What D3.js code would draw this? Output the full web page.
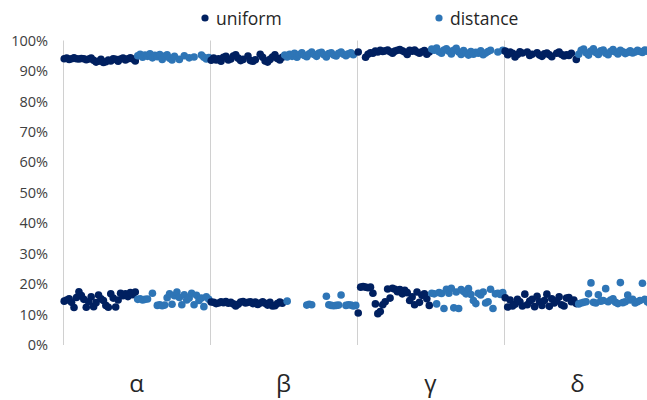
<!DOCTYPE html>
<html>
<head>
<meta charset="utf-8">
<script src="https://cdn.jsdelivr.net/npm/d3@7"></script>
<style>
  html, body { margin: 0; padding: 0; background: #fff; }
  svg { display: block; font-family: "Open Sans", "Liberation Sans", sans-serif; }
</style>
</head>
<body>
<svg id="chart" width="647" height="400"></svg>
<script>
const categories = ["α", "β", "γ", "δ"];
const seriesNames = ["uniform", "distance"];
const seriesColors = ["#002060", "#2E75B6"];
const yTicks = [0, 10, 20, 30, 40, 50, 60, 70, 80, 90, 100];

const uniformHigh = [
  [94,94.2,93.8,94,94.3,94,93.9,94.1,94,93.7,93.9,94.2,93.5,92.9,93.2,93.8,92.8,93,93.6,93.3,94,93.8,93.2,93.9,94.2,93.6,94,94.3,93.9,93.3],
  [93.5,94.2,93.6,94,93.2,94.5,94.8,93.6,93.9,94.9,95.3,94.2,93.4,93.8,null,94.9,93.4,93.2,93.7,null,95.5,94.5,93.3,92.9,93.8,94.6,95.3,94.1,93.6,94.5],
  [96.2,null,null,94.5,95.5,96,95.8,96.5,96.2,96.8,96.4,96.6,96.9,96.3,95.8,96.5,96.8,97,96.6,96.2,95.4,96.8,96.5,96.9,96.2,95.8,96.3,96.7,95.5,96.2],
  [96.5,95.3,96.2,95.8,94.6,95.4,96.3,95.9,null,96.2,95.1,95.5,null,96,95.2,94.8,95.6,95.9,95.3,94.7,null,95.8,96.2,95.4,94.9,95.3,95.1,95.8,null,93.8]
];
const distanceHigh = [
  [95,95.5,94.5,95.2,94.8,95.6,94.3,95.1,94.7,95.4,93.8,94.9,95.3,94.2,93.6,94.8,null,93.8,null,95,null,94.3,null,94.6,null,null,95.2,94.5,93.9,94.4],
  [95.2,94.6,95.5,94.8,95.8,94.5,95.4,96,95.1,94.7,95.6,96.2,95.4,94.8,95.9,96.1,95.3,94.6,95.7,96,95.2,94.9,95.8,96.2,95.5,95,95.6,96,95.3,null],
  [97.2,96.8,97.5,96.3,95.8,96.9,97.3,96.5,95.6,96.8,97.4,96.2,95.4,96.7,95.9,95.2,96.4,95.5,96.1,95.8,96.6,95.3,95.9,96.4,96.8,null,null,96.2,null,96.8],
  [95.5,96.8,97.2,96,95.2,96.5,97.3,96.1,95.4,96.6,96.9,95.8,95.3,96.4,97,96.2,95.6,96.8,96.3,95.7,96.1,96.6,95.9,96.2,96.8,96.4,96.1,96.9,96.5,97]
];
const uniformLow = [
  [14.4,14.8,15.2,14,12.3,15.6,17.5,16.2,15,12.4,14.2,15.8,12.6,13.9,16.4,15.2,14.6,13,12.4,16.8,15.4,12.5,14.8,17,16.2,16.8,15.9,17.2,16.5,17.4],
  [14.1,14,13.6,13.8,14.2,13.9,14.3,13.7,14,13.5,12.8,13.4,14.1,14.3,13.8,14,14.2,13.6,14.1,13.3,13.8,14.2,13.7,13.1,14,12.8,12.9,13.6,14.1,13.7],
  [10.5,19,19.2,19,18.8,19,17,13.5,10.3,11,13.2,14.2,18.4,15.4,18.6,18.3,17.5,18.2,16.8,18,17.2,14.6,15.8,13.2,17.4,14,16.3,16.8,15.2,13],
  [15.5,12.5,14.8,12.8,13.4,15,14.2,12.8,16.7,13.2,14.4,15,12.6,16,14.2,13,14.6,16.7,12.7,15.2,13.8,14.5,15.8,13.2,12.8,15.4,15.6,14.2,14.8,13.6]
];
const distanceLow = [
  [15,15.2,14.8,15,15.1,null,17,null,13,13.2,12.9,13.1,15.5,16.8,13.4,16.2,17.4,15.6,13.2,16.5,14.8,15.4,17,13.2,16.3,14.6,15.4,12.6,15.8,15],
  [null,14.4,null,null,null,null,null,null,null,13.1,13.4,13.2,null,null,null,null,null,16,13.2,13,12.9,13,13.1,16.4,null,13,13.2,13.1,12.8,13],
  [17,16.8,13.5,17.2,16.9,12,18.3,17,18.6,12.2,17.4,12,18.2,17.6,16.8,18.5,16.6,14.6,13.6,17,16.4,17.4,13.8,14.2,18.3,12,16.8,17,16.6,17.2],
  [13.5,13.8,14,14.2,16.8,20.4,14,13.8,16.5,14.4,14.6,18.5,14.2,14.8,15.2,14,13.6,20.5,13.9,14.2,16.4,14.8,15,13.8,14.2,14.6,20.3,15,14.2,13.6]
];

const seriesHigh = [uniformHigh, distanceHigh];
const seriesLow = [uniformLow, distanceLow];

const svg = d3.select("#chart");
const x = d3.scaleLinear().domain([0, categories.length]).range([63, 651]);
const y = d3.scaleLinear().domain([0, 100]).range([345, 40.5]);

// category separators
svg.append("g").selectAll("line")
  .data(d3.range(categories.length + 1))
  .join("line")
  .attr("x1", d => x(d) + 0.5).attr("x2", d => x(d) + 0.5)
  .attr("y1", y(100)).attr("y2", y(0))
  .attr("stroke", "#d0d0d0").attr("stroke-width", 1);

// y axis labels
const yAxis = d3.axisLeft(y).tickValues(yTicks).tickFormat(d => d + "%").tickSize(0).tickPadding(0);
const ga = svg.append("g").attr("transform", "translate(48,0)").call(yAxis);
ga.select(".domain").remove();
ga.selectAll("text").attr("font-size", 14.5).attr("fill", "#404040")
  .style("font-family", "'Open Sans', 'Liberation Sans', sans-serif");

// category labels
svg.append("g").selectAll("text")
  .data(categories)
  .join("text")
  .attr("x", (d, i) => x(i + 0.5))
  .attr("y", 392)
  .attr("text-anchor", "middle")
  .attr("font-size", 24)
  .attr("fill", "#262626")
  .text(d => d);

// points
const pts = [];
categories.forEach((c, ci) => {
  seriesNames.forEach((s, si) => {
    [seriesHigh[si][ci], seriesLow[si][ci]].forEach(arr => {
      const n = arr.length;
      arr.forEach((v, i) => {
        if (v === null) return;
        pts.push({ xv: ci + si * 0.5 + (i + 0.5) / n * 0.5, v, si });
      });
    });
  });
});
svg.append("g").selectAll("circle")
  .data(pts)
  .join("circle")
  .attr("cx", d => x(d.xv))
  .attr("cy", d => y(d.v))
  .attr("r", 3.8)
  .attr("fill", d => seriesColors[d.si]);

// legend
const legendX = [205, 439];
const lg = svg.append("g").selectAll("g")
  .data(seriesNames)
  .join("g")
  .attr("transform", (d, i) => `translate(${legendX[i]},18)`);
lg.append("circle").attr("r", 3.6).attr("fill", (d, i) => seriesColors[i]);
lg.append("text").attr("x", 11).attr("y", 6.5).attr("font-size", 17.5).attr("fill", "#262626").text(d => d);
</script>
</body>
</html>
